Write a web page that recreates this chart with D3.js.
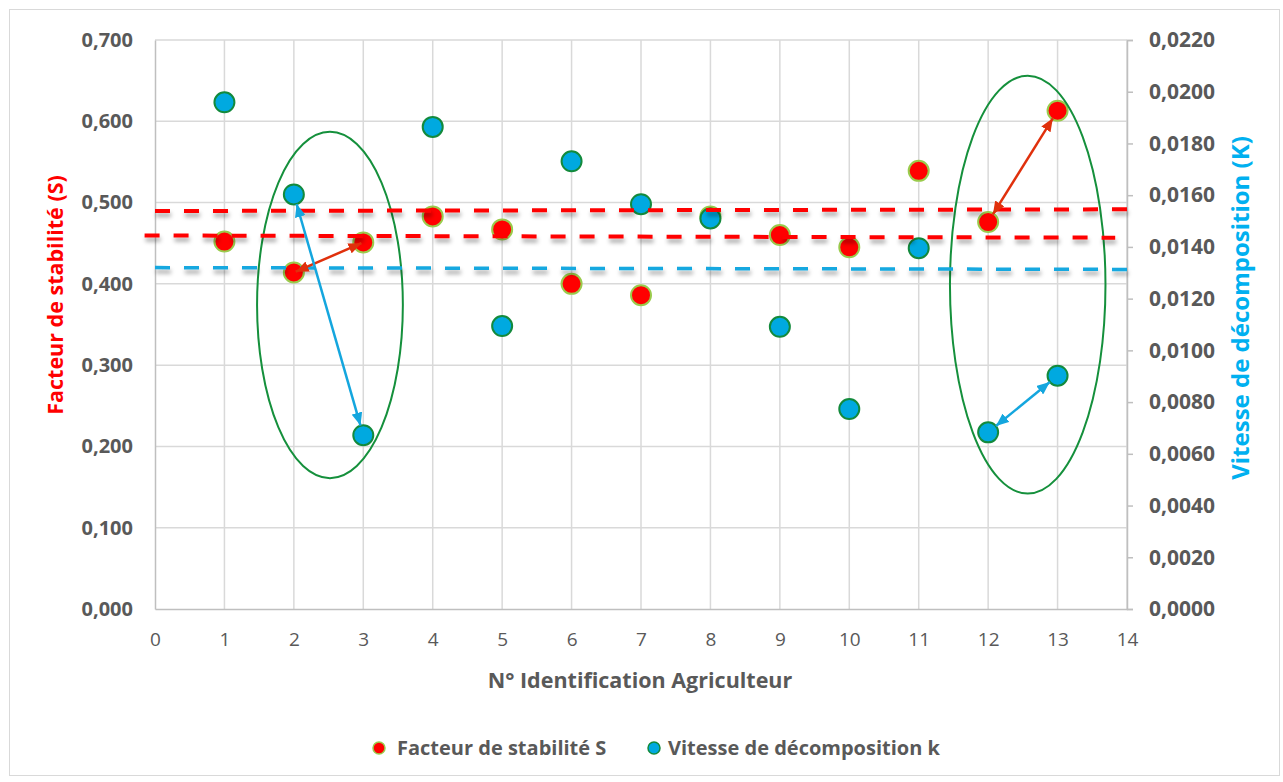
<!DOCTYPE html>
<html lang="fr">
<head>
<meta charset="utf-8">
<script src="https://cdn.jsdelivr.net/npm/d3@7"></script>
<style>
  html, body { margin: 0; padding: 0; background: #ffffff; }
  svg { display: block; }
  text { font-family: "Open Sans", "DejaVu Sans", sans-serif; }
</style>
</head>
<body>
<svg id="chart" width="1283" height="782"></svg>
<script>
// Farmer identification numbers (x axis)
const agriculteurs = [1, 2, 3, 4, 5, 6, 7, 8, 9, 10, 11, 12, 13];
// Stability factor S (left axis)
const facteurStabilite = [0.452, 0.414, 0.451, 0.483, 0.467, 0.400, 0.386, 0.483, 0.460, 0.445, 0.539, 0.476, 0.613];
// Decomposition rate k (right axis)
const vitesseDecomposition = [0.01959, 0.01603, 0.00672, 0.01864, 0.01094, 0.01731, 0.01565, 0.01510, 0.01091, 0.00773, 0.01395, 0.00683, 0.00902];

// Axis tick values
const xTicks = [0, 1, 2, 3, 4, 5, 6, 7, 8, 9, 10, 11, 12, 13, 14];
const sTicks = [0, 0.1, 0.2, 0.3, 0.4, 0.5, 0.6, 0.7];
const kTicks = [0, 0.002, 0.004, 0.006, 0.008, 0.010, 0.012, 0.014, 0.016, 0.018, 0.020, 0.022];

// Dashed reference lines: [x0, v0, x1, v1] with the axis they belong to
const refLinesS = [[0, 0.4896, 14.05, 0.4917], [-0.15, 0.4595, 13.83, 0.4568]];
const refLinesK = [[0, 0.01320, 14.05, 0.01313]];

// Highlight ellipses around compared pairs: [cx, cS, rx (x units), ry (S units)]
const ellipses = [[2.52, 0.374, 1.05, 0.213], [12.57, 0.399, 1.12, 0.257]];

// Double-headed arrows between pairs of farmers: [from id, to id]
const arrowsS = [[2, 3], [12, 13]];
const arrowsK = [[2, 3], [12, 13]];

const svg = d3.select("#chart");
const W = 1283, H = 782;
const plot = { left: 155, right: 1127, top: 40, bottom: 609 };

const x = d3.scaleLinear().domain([0, 14]).range([plot.left, plot.right]);
const yS = d3.scaleLinear().domain([0, 0.7]).range([plot.bottom, plot.top]);
const yK = d3.scaleLinear().domain([0, 0.022]).range([plot.bottom, plot.top]);

const comma = (d, n) => d.toFixed(n).replace(".", ",");

const RED = "#ff0000", BLUE = "#00a9e0", GRID = "#d9d9d9", TXT = "#595959";

const defs = svg.append("defs");
const shadow = defs.append("filter").attr("id", "ombre")
  .attr("x", "-5%").attr("y", "-200%").attr("width", "110%").attr("height", "500%");
shadow.append("feDropShadow").attr("dx", 1).attr("dy", 4).attr("stdDeviation", 2)
  .attr("flood-color", "#000").attr("flood-opacity", 0.35);

function arrowHead(id, color) {
  defs.append("marker").attr("id", id)
    .attr("viewBox", "0 0 12 10").attr("refX", 12).attr("refY", 5)
    .attr("markerWidth", 13).attr("markerHeight", 11)
    .attr("markerUnits", "userSpaceOnUse")
    .attr("orient", "auto-start-reverse")
    .append("path").attr("d", "M0,0 L12,5 L0,10 Z").attr("fill", color);
}
arrowHead("flecheRouge", "#e0300c");
arrowHead("flecheBleue", "#14a6de");

// Outer frame
svg.append("rect").attr("x", 9.5).attr("y", 9.5).attr("width", W - 13).attr("height", H - 16)
  .attr("fill", "#fff").attr("stroke", GRID).attr("stroke-width", 1);

// Grid
const grid = svg.append("g");
grid.selectAll("line.h").data(sTicks.slice(1)).join("line")
  .attr("x1", plot.left).attr("x2", plot.right)
  .attr("y1", d => yS(d)).attr("y2", d => yS(d))
  .attr("stroke", GRID).attr("stroke-width", 1.5);
grid.selectAll("line.v").data(xTicks.slice(1)).join("line")
  .attr("x1", d => x(d)).attr("x2", d => x(d))
  .attr("y1", plot.top).attr("y2", plot.bottom)
  .attr("stroke", GRID).attr("stroke-width", 1.5);

// Axes
const axB = svg.append("g").attr("transform", `translate(0,${plot.bottom})`)
  .call(d3.axisBottom(x).tickValues(xTicks).tickSize(0).tickPadding(24).tickFormat(d3.format("d")));
const axL = svg.append("g").attr("transform", `translate(${plot.left},0)`)
  .call(d3.axisLeft(yS).tickValues(sTicks).tickSize(0).tickPadding(22).tickFormat(d => comma(d, 3)));
const axR = svg.append("g").attr("transform", `translate(${plot.right},0)`)
  .call(d3.axisRight(yK).tickValues(kTicks).tickSize(6).tickPadding(16).tickFormat(d => comma(d, 4)));

[axB, axL, axR].forEach(a => {
  a.select(".domain").attr("stroke", "#bfbfbf").attr("stroke-width", 1.5);
  a.selectAll(".tick line").attr("stroke", "#bfbfbf").attr("stroke-width", 1.5);
  a.selectAll("text").attr("fill", TXT).style("font-family", "'Open Sans', sans-serif");
});
axB.selectAll("text").style("font-size", "19px").style("font-weight", 400);
axL.selectAll("text").style("font-size", "20px").style("font-weight", 700);
axR.selectAll("text").style("font-size", "21px").style("font-weight", 700);

// Axis titles
svg.append("text").attr("x", (plot.left + plot.right) / 2 - 1).attr("y", 688)
  .attr("text-anchor", "middle").attr("fill", TXT)
  .style("font-size", "21.5px").style("font-weight", 700)
  .text("N° Identification Agriculteur");

svg.append("text").attr("transform", `translate(63,295) rotate(-90)`)
  .attr("text-anchor", "middle").attr("fill", RED)
  .style("font-size", "21.5px").style("font-weight", 700)
  .text("Facteur de stabilité (S)");

svg.append("text").attr("transform", `translate(1249,308) rotate(-90)`)
  .attr("text-anchor", "middle").attr("fill", "#00b0f0")
  .style("font-size", "24px").style("font-weight", 700)
  .text("Vitesse de décomposition (K)");

// Series markers
const sData = agriculteurs.map((id, i) => ({ id, v: facteurStabilite[i] }));
const kData = agriculteurs.map((id, i) => ({ id, v: vitesseDecomposition[i] }));

svg.append("g").selectAll("circle").data(sData).join("circle")
  .attr("cx", d => x(d.id)).attr("cy", d => yS(d.v)).attr("r", 10)
  .attr("fill", RED).attr("stroke", "#9acb4c").attr("stroke-width", 2);

svg.append("g").selectAll("circle").data(kData).join("circle")
  .attr("cx", d => x(d.id)).attr("cy", d => yK(d.v)).attr("r", 10)
  .attr("fill", BLUE).attr("stroke", "#138a3c").attr("stroke-width", 2);

// Highlight ellipses
svg.append("g").selectAll("ellipse").data(ellipses).join("ellipse")
  .attr("cx", d => x(d[0])).attr("cy", d => yS(d[1]))
  .attr("rx", d => x(d[2]) - x(0)).attr("ry", d => yS(0) - yS(d[3]))
  .attr("fill", "none").attr("stroke", "#15903c").attr("stroke-width", 2);

// Dashed reference lines
const ref = svg.append("g").attr("filter", "url(#ombre)");
ref.selectAll("line.s").data(refLinesS).join("line")
  .attr("x1", d => x(d[0])).attr("y1", d => yS(d[1]))
  .attr("x2", d => x(d[2])).attr("y2", d => yS(d[3]))
  .attr("stroke", RED).attr("stroke-width", 4).attr("stroke-dasharray", "15 14");
ref.selectAll("line.k").data(refLinesK).join("line")
  .attr("x1", d => x(d[0])).attr("y1", d => yK(d[1]))
  .attr("x2", d => x(d[2])).attr("y2", d => yK(d[3]))
  .attr("stroke", "#12a8e0").attr("stroke-width", 3.5).attr("stroke-dasharray", "15 14");

// Double-headed arrows, trimmed to stop at the marker edge
function drawArrows(pairs, values, yScale, color, markerId, insets) {
  svg.append("g").selectAll("line").data(pairs).join("line")
    .each(function (p, i) {
      const a = [x(p[0]), yScale(values[p[0] - 1])];
      const b = [x(p[1]), yScale(values[p[1] - 1])];
      const dx = b[0] - a[0], dy = b[1] - a[1], len = Math.hypot(dx, dy);
      const ux = dx / len, uy = dy / len, t = insets[i];
      d3.select(this)
        .attr("x1", a[0] + ux * t).attr("y1", a[1] + uy * t)
        .attr("x2", b[0] - ux * t).attr("y2", b[1] - uy * t);
    })
    .attr("stroke", color).attr("stroke-width", 2.5)
    .attr("marker-start", `url(#${markerId})`).attr("marker-end", `url(#${markerId})`);
}
drawArrows(arrowsS, facteurStabilite, yS, "#e0300c", "flecheRouge", [2, 9]);
drawArrows(arrowsK, vitesseDecomposition, yK, "#14a6de", "flecheBleue", [10, 10]);

// Legend
const legend = svg.append("g").attr("transform", "translate(0,748)");
const items = [
  { label: "Facteur de stabilité S", fill: RED, stroke: "#9acb4c", cx: 379, tx: 397 },
  { label: "Vitesse de décomposition k", fill: BLUE, stroke: "#138a3c", cx: 654, tx: 668 }
];
items.forEach(it => {
  legend.append("circle").attr("cx", it.cx).attr("cy", 0).attr("r", 6)
    .attr("fill", it.fill).attr("stroke", it.stroke).attr("stroke-width", 1.5);
  legend.append("text").attr("x", it.tx).attr("y", 0).attr("dy", "0.35em")
    .attr("fill", TXT).style("font-size", "20px").style("font-weight", 700)
    .text(it.label);
});
</script>
</body>
</html>
